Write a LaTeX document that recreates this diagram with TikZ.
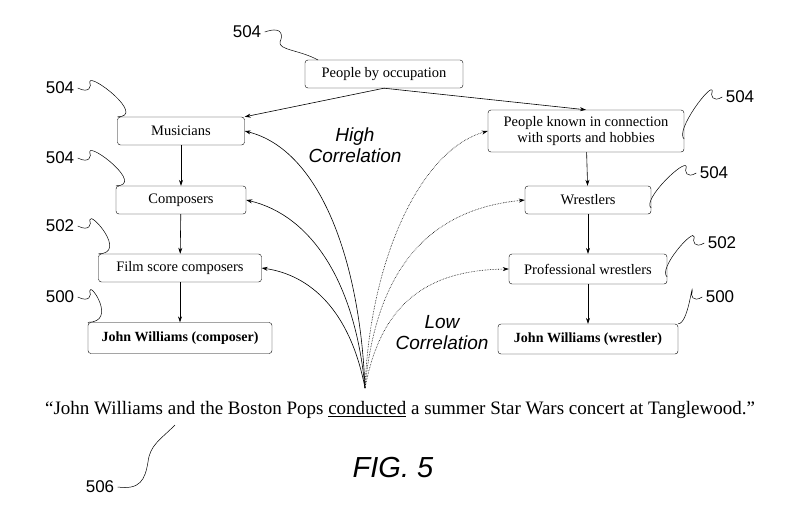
\documentclass[tikz,border=0pt]{standalone}
\usepackage{fontspec}
\setmainfont{Liberation Serif}
\newfontfamily\arialf{Liberation Sans}
\usetikzlibrary{arrows.meta}
\begin{document}
\begin{tikzpicture}[x=1pt,y=-1pt,
 box/.style={draw,rounded corners=3pt,minimum height=28pt,font=\fontsize{14.5}{16}\selectfont,align=center,inner sep=1pt},
 num/.style={font=\arialf\fontsize{17}{19}\selectfont},
 ar/.style={-{Stealth[length=6pt,width=4pt]},line width=0.6pt},
 sq/.style={line width=0.5pt},
 lab/.style={font=\arialf\itshape\fontsize{19}{21}\selectfont,align=center}]
\useasboundingbox (0,0) rectangle (798,531);
\node[box,minimum width=158pt] (pbo) at (384,74) {People by occupation};
\node[box,minimum width=127pt] (mus) at (181,131) {Musicians};
\node[box,minimum width=130pt] (com) at (181,200) {Composers};
\node[box,minimum width=163pt] (fsc) at (180,268) {Film score composers};
\node[box,minimum width=184pt,minimum height=31pt,font=\bfseries\fontsize{14}{16}\selectfont] (jwc) at (180,338) {John Williams (composer)};
\node[box,minimum width=196pt,minimum height=42pt,inner sep=1pt] (pk) at (586,131) {People known in connection\\with sports and hobbies};
\node[box,minimum width=126pt] (wre) at (588,200) {Wrestlers};
\node[box,minimum width=158pt,minimum height=30pt] (pw) at (588,269) {Professional wrestlers};
\node[box,minimum width=180pt,minimum height=30pt,font=\bfseries\fontsize{14}{16}\selectfont] (jww) at (588,339) {John Williams (wrestler)};
\coordinate (src) at (365,388);
\draw[ar] (pbo.south) -- (mus.north east);
\draw[ar] (pbo.south) -- (pk.north);
\draw[ar] (mus) -- (com); \draw[ar] (com) -- (fsc); \draw[ar] (fsc) -- (jwc);
\draw[ar] (pk) -- (wre); \draw[ar] (wre) -- (pw); \draw[ar] (pw) -- (jww);
\draw[ar] (src) .. controls (360,260) and (320,150) .. (mus.east);
\draw[ar] (src) .. controls (355,280) and (310,215) .. (com.east);
\draw[ar] (src) .. controls (350,310) and (310,275) .. (fsc.east);
\draw[ar,densely dotted] (src) .. controls (370,260) and (420,150) .. (pk.west);
\draw[ar,densely dotted] (src) .. controls (375,280) and (420,210) .. (wre.west);
\draw[ar,densely dotted] (src) .. controls (380,310) and (420,270) .. (pw.west);
\node[lab] (hc) at (355,145) {High\\Correlation};
\node[lab] (lc) at (442,333) {Low\\Correlation};
\node[font=\fontsize{19}{22}\selectfont] (sent) at (400,410) {``John Williams and the Boston Pops \underline{conducted} a summer Star Wars concert at Tanglewood.''};
\node[font=\arialf\itshape\fontsize{29}{32}\selectfont] (fig) at (393,468) {FIG. 5};
\node[num] (n1) at (247,32) {504};
\node[num] (n2) at (60,88) {504};
\node[num] (n3) at (60,158) {504};
\node[num] (n4) at (60,226) {502};
\node[num] (n5) at (60,297) {500};
\node[num] (n6) at (740,97) {504};
\node[num] (n7) at (714,173) {504};
\node[num] (n8) at (722,243) {502};
\node[num] (n9) at (720,297) {500};
\node[num] (n10) at (100,487) {506};
\draw[sq] (n1.east) .. controls (285,25) and (282,38) .. (280,42) .. controls (278,50) and (300,50) .. (318,60);
\foreach \n/\b in {n2/mus,n3/com,n4/fsc,n5/jwc}{
 \draw[sq] (\n.east) .. controls ([xshift=12pt,yshift=-6pt]\n.east) and ([xshift=14pt,yshift=2pt]\n.east) .. ([xshift=12pt,yshift=6pt]\n.east) .. controls ([xshift=12pt,yshift=16pt]\n.east) and ([xshift=30pt]\b.north west) .. (\b.north west);}
\foreach \n/\b in {n6/pk,n7/wre,n8/pw}{
 \draw[sq] (\n.west) .. controls ([xshift=-10pt,yshift=-6pt]\n.west) and ([xshift=-12pt,yshift=2pt]\n.west) .. ([xshift=-10pt,yshift=6pt]\n.west) .. controls ([xshift=-10pt,yshift=16pt]\n.west) and ([xshift=-10pt]\b.east) .. ([yshift=-8pt]\b.east);}
\draw[sq] (n9.west) .. controls ([xshift=-10pt,yshift=-6pt]n9.west) and ([xshift=-12pt,yshift=2pt]n9.west) .. ([xshift=-10pt,yshift=6pt]n9.west) .. controls ([xshift=-10pt,yshift=16pt]n9.west) and ([xshift=10pt]jww.north east) .. (jww.north east);
\draw[sq] (n10.east) .. controls (140,490) and (145,480) .. (148,462) .. controls (150,445) and (160,440) .. (175,425);
\end{tikzpicture}
\end{document}
